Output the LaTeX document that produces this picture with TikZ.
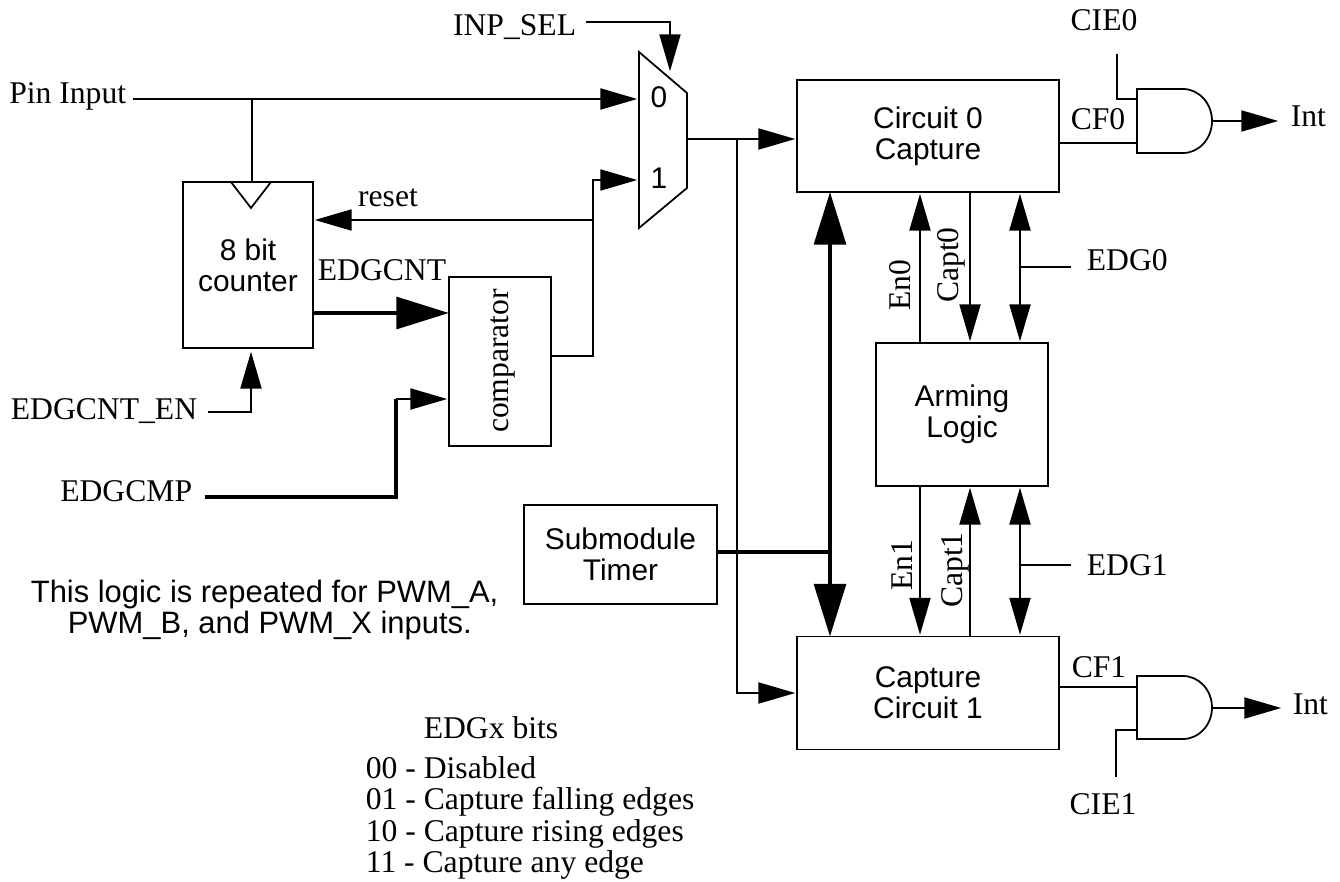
\documentclass[tikz,border=0pt]{standalone}
\usepackage{fontspec}
\setmainfont{Liberation Serif}
\setsansfont{Liberation Sans}
\usetikzlibrary{arrows.meta, calc}

\begin{document}
\begin{tikzpicture}[x=0.02cm, y=-0.02cm, line width=1pt,
  serif/.style={font=\rmfamily\fontsize{18}{17.7}\selectfont, inner sep=0pt},
  sans/.style={font=\sffamily\fontsize{17}{17.6}\selectfont, inner sep=0pt, align=center},
  block/.style={draw, sans, outer sep=0pt, align=center},
  sig/.style={-{Triangle[length=21pt, width=12pt]}, shorten >=1pt},
  dsig/.style={{Triangle[length=21pt, width=12pt]}-{Triangle[length=21pt, width=12pt]}, shorten >=1pt, shorten <=1pt},
  bus/.style={line width=2.5pt, -{Triangle[length=30pt, width=18pt]}},
  dbus/.style={line width=2.5pt, {Triangle[length=30pt, width=18pt]}-{Triangle[length=30pt, width=18pt]}}
]
  \useasboundingbox (0,0) rectangle (1340,882);

  % blocks
  \node[block, minimum width=5.24cm, minimum height=2.24cm] (circ0) at (928,136) {Circuit 0\\Capture};
  \node[block, minimum width=5.24cm, minimum height=2.26cm] (circ1) at (928,693) {Capture\\Circuit 1};
  \node[block, minimum width=3.44cm, minimum height=2.86cm] (arm) at (962,414.5) {Arming\\Logic};
  \node[block, minimum width=3.86cm, minimum height=1.98cm] (timer) at (620.5,554.5) {Submodule\\Timer};
  \node[block, minimum width=2.6cm, minimum height=3.32cm, text depth=-2pt] (counter) at (248,265) {8 bit\\counter};
  \node[draw, outer sep=0pt, minimum width=2.04cm, minimum height=3.38cm] (cmp) at (500,361.5) {};
  \node[serif, rotate=90] (cmplabel) at (503,361) {comparator};
  \draw (231,182) -- (251,208) -- (271,182);

  % mux
  \coordinate (muxa) at (639,52);
  \coordinate (muxb) at (687,93);
  \coordinate (muxc) at (687,188);
  \coordinate (muxd) at (639,228);
  \draw (muxa) -- (muxb) -- (muxc) -- (muxd) -- cycle;
  \node[sans] (mux0) at (659,97) {0};
  \node[sans] (mux1) at (659,178) {1};
  \coordinate (muxin0) at (639,99);
  \coordinate (muxin1) at (639,180);
  \coordinate (muxout) at (687,139);
  \coordinate (muxsel) at (670,73);

  % and gates
  \coordinate (and0) at (1137,89);
  \draw (and0) -- ++(46,0) arc (-90:90:29 and 32) -- ++(-46,0) -- cycle;
  \coordinate (and0a) at (1137,99);
  \coordinate (and0b) at (1137,143);
  \coordinate (and0y) at (1212,121);
  \coordinate (and1) at (1137,676);
  \draw (and1) -- ++(46,0) arc (-90:90:29 and 31.5) -- ++(-46,0) -- cycle;
  \coordinate (and1a) at (1137,687);
  \coordinate (and1b) at (1137,730);
  \coordinate (and1y) at (1212,708);

  % labels
  \node[serif, anchor=east] (pin) at (127,96) {Pin Input};
  \node[serif, anchor=east] (inpsel) at (577,27) {INP\_SEL};
  \node[serif] (reset) at (388,198) {reset};
  \node[serif, anchor=west] (edgcnt) at (317,270) {EDGCNT};
  \node[serif, anchor=east] (edgcnten) at (198,411) {EDGCNT\_EN};
  \node[serif, anchor=east] (edgcmp) at (193,491) {EDGCMP};
  \node[serif] (cie0) at (1104,20) {CIE0};
  \node[serif] (cf0) at (1098,119) {CF0};
  \node[serif, anchor=west] (int0) at (1290,116) {Int};
  \node[serif, anchor=west] (edg0) at (1086,260) {EDG0};
  \node[serif, anchor=west] (edg1) at (1086,565) {EDG1};
  \node[serif] (cie1) at (1103,804) {CIE1};
  \node[serif] (cf1) at (1099,667) {CF1};
  \node[serif, anchor=west] (int1) at (1292,704) {Int};
  \node[serif, rotate=90] (en0) at (900,285) {En0};
  \node[serif, rotate=90] (capt0) at (951,265) {Capt0};
  \node[serif, rotate=90] (en1) at (902,565) {En1};
  \node[serif, rotate=90] (capt1) at (955,570) {Capt1};
  \node[sans, font=\sffamily\fontsize{17.6}{16.4}\selectfont, anchor=west, align=left] (note) at (30,610) {This logic is repeated for PWM\_A,\\ \hspace*{0.74cm}PWM\_B, and PWM\_X inputs.};
  \node[serif] (bitstitle) at (491,728) {EDGx bits};
  \node[serif, anchor=north west, align=left] (bits) at (365,756) {00 - Disabled\\01 - Capture falling edges\\10 - Capture rising edges\\11 - Capture any edge};

  % free ends and junctions
  \coordinate (pinend) at (133,99);
  \coordinate (clk) at (252,99);
  \coordinate (clkin) at (252,182);
  \coordinate (selend) at (586,22);
  \coordinate (fb) at (593,356);
  \coordinate (rstj) at (593,220);
  \coordinate (outj) at (737,139);
  \coordinate (cntout) at (313,313);
  \coordinate (cmpin0) at (449,313);
  \coordinate (cmpin1) at (449,399);
  \coordinate (cmpbend) at (396,399);
  \coordinate (cmpout) at (551,356);
  \coordinate (cmpend) at (205,497);
  \coordinate (cntenend) at (208,412);
  \coordinate (cnten) at (251,350);
  \coordinate (colbus) at (830,0);
  \coordinate (colen) at (920,0);
  \coordinate (colcapt) at (970,0);
  \coordinate (coledg) at (1020,0);
  \coordinate (busj) at (830,552);
  \coordinate (edg0j) at (1020,267);
  \coordinate (edg0end) at (1071,267);
  \coordinate (edg1j) at (1020,565);
  \coordinate (edg1end) at (1071,565);
  \coordinate (cie0end) at (1117,54);
  \coordinate (cie1end) at (1116,777);
  \coordinate (int0end) at (1280,121);
  \coordinate (int1end) at (1283,708);

  % connectors
  \draw[sig] (pinend) -- (muxin0);
  \draw (clk) -- (clkin);
  \draw[sig] (selend) -| (muxsel);
  \draw[sig] (cmpout) -- (fb) |- (muxin1);
  \draw[sig] (rstj) -- (counter.east |- rstj);
  \draw[sig] (muxout) -- (circ0.west |- muxout);
  \draw[sig] (outj) |- (circ1.west);
  \draw[bus] (cntout) -- (cmpin0);
  \draw[line width=2.5pt] (cmpend) -| (cmpbend);
  \draw[sig] (cmpbend) -- (cmpin1);
  \draw[sig] (cntenend) -| (cnten);
  \draw[dbus] (circ0.south -| colbus) -- (circ1.north -| colbus);
  \draw[line width=2.5pt] (timer.east |- busj) -- (busj);

  \draw[sig] (arm.north -| colen) -- (circ0.south -| colen);
  \draw[sig] (circ0.south -| colcapt) -- (arm.north -| colcapt);
  \draw[dsig] (circ0.south -| coledg) -- (arm.north -| coledg);
  \draw (edg0j) -- (edg0end);
  \draw[sig] (arm.south -| colen) -- (circ1.north -| colen);
  \draw[sig] (circ1.north -| colcapt) -- (arm.south -| colcapt);
  \draw[dsig] (arm.south -| coledg) -- (circ1.north -| coledg);
  \draw (edg1j) -- (edg1end);

  \draw (circ0.east |- and0b) -- (and0b);
  \draw (cie0end) |- (and0a);
  \draw[sig] (and0y) -- (int0end);
  \draw (circ1.east |- and1a) -- (and1a);
  \draw (cie1end) |- (and1b);
  \draw[sig] (and1y) -- (int1end);
\end{tikzpicture}
\end{document}
